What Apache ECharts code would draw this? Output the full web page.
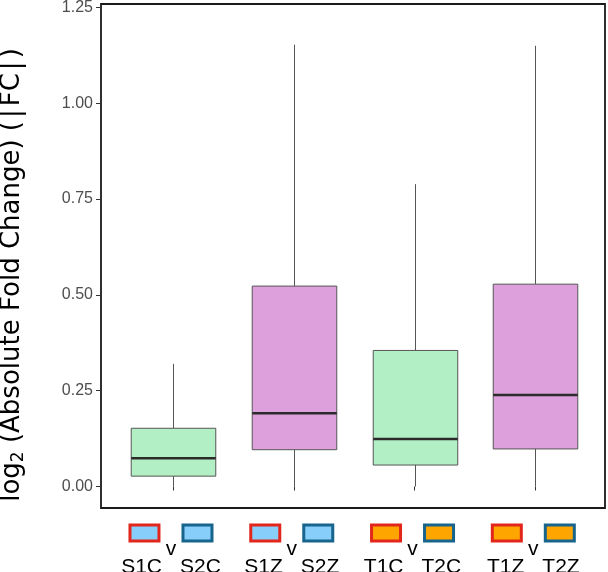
<!DOCTYPE html>
<html><head><meta charset="utf-8">
<script src="https://cdn.jsdelivr.net/npm/echarts@6/dist/echarts.min.js"></script>
<style>html,body{margin:0;padding:0;background:#fff}#c{width:608px;height:572px}</style>
</head><body><div id="c"></div>
<script>
// ---- data ----
const firstLabels  = ['S1C', 'S1Z', 'T1C', 'T1Z'];
const secondLabels = ['S2C', 'S2Z', 'T2C', 'T2Z'];
const positions    = [1, 2, 3, 4];
const whiskerLow   = [0.000, 0.000, 0.000, 0.000];
const q1           = [0.027, 0.096, 0.056, 0.098];
const median       = [0.074, 0.191, 0.124, 0.239];
const q3           = [0.152, 0.523, 0.355, 0.528];
const whiskerHigh  = [0.320, 1.153, 0.789, 1.150];
const yTicks       = [0, 0.25, 0.5, 0.75, 1.0, 1.25];
const boxFill      = ['#b3efc5', '#dda0dd', '#b3efc5', '#dda0dd'];
const iconFill     = ['#87cefa', '#87cefa', '#ffa500', '#ffa500'];
const iconBorderA  = '#e3261b';
const iconBorderB  = '#17648c';

// ---- style ----
const FONT = 'Liberation Sans, Arial, sans-serif';
const TFONT = 'DejaVu Sans, sans-serif';
const BOX_W = 0.7;

const rich = {
  g:  { width: 27, height: 13, align: 'center' },
  sp: { width: 18, align: 'center' },
  v:  { fontSize: 21, fontFamily: FONT, color: '#000', lineHeight: 13, align: 'center' },
  n:  { fontSize: 21, fontFamily: FONT, color: '#000', lineHeight: 22, align: 'center' }
};
iconFill.forEach((c, i) => {
  rich['ia' + i] = { width: 26, height: 13, lineHeight: 20, backgroundColor: c, borderColor: iconBorderA, borderWidth: 3, align: 'center' };
  rich['ib' + i] = { width: 26, height: 13, lineHeight: 20, backgroundColor: c, borderColor: iconBorderB, borderWidth: 3, align: 'center' };
});

function renderItem(params, api) {
  const i = params.dataIndex;
  const x = api.value(0);
  const pLo = api.coord([x, api.value(1)]);
  const pQ1 = api.coord([x, api.value(2)]);
  const pMed = api.coord([x, api.value(3)]);
  const pQ3 = api.coord([x, api.value(4)]);
  const pHi = api.coord([x, api.value(5)]);
  const w = api.size([BOX_W, 0])[0];
  const cx = Math.round(pQ1[0]) + 0.5;
  return {
    type: 'group',
    children: [
      { type: 'line', shape: { x1: cx, y1: pHi[1], x2: cx, y2: pQ3[1] }, style: { stroke: '#555', lineWidth: 1 } },
      { type: 'line', shape: { x1: cx, y1: pQ1[1], x2: cx, y2: pLo[1] }, style: { stroke: '#555', lineWidth: 1 } },
      { type: 'rect', shape: { x: cx - w / 2, y: pQ3[1], width: w, height: pQ1[1] - pQ3[1] }, style: { fill: boxFill[i], stroke: '#555', lineWidth: 1 } },
      { type: 'line', shape: { x1: cx - w / 2, y1: pMed[1], x2: cx + w / 2, y2: pMed[1] }, style: { stroke: '#2b2b2b', lineWidth: 2.5 } }
    ]
  };
}

const titleName = '{a|log}{s|2}{a| (Absolute Fold Change) (}{h|}{a||}{h|}{a|FC}{h|}{a||}{h|}{a|)}';

const chart = echarts.init(document.getElementById('c'), null, { renderer: 'canvas' });
chart.setOption({
  animation: false,
  backgroundColor: '#fff',
  grid: { left: 101, right: 3, top: 4, bottom: 64, show: true, outerBoundsMode: 'none', containLabel: false,
          borderColor: '#1a1a1a', borderWidth: 1.8, backgroundColor: 'transparent' },
  xAxis: {
    type: 'value', min: 0.404, max: 4.577,
    splitLine: { show: false },
    axisLine: { show: false },
    axisTick: { show: true, length: 4, customValues: positions, lineStyle: { color: '#333' } },
    axisLabel: {
      customValues: positions, margin: 15, padding: [0, 4, 0, 0],
      formatter: function (v) {
        const i = Math.round(v) - 1;
        return '{ia' + i + '|}{g|}{ib' + i + '|}\n{v|v}\n{n|' + firstLabels[i] + '}{sp|}{n|' + secondLabels[i] + '}';
      },
      rich: rich
    }
  },
  yAxis: {
    type: 'value', min: -0.0561, max: 1.2591,
    splitLine: { show: false },
    axisLine: { show: false },
    axisTick: { show: true, length: 5, customValues: yTicks, lineStyle: { color: '#333' } },
    axisLabel: { customValues: yTicks, formatter: v => v.toFixed(2), fontSize: 16, fontFamily: FONT, color: '#4d4d4d', margin: 8 },
    name: titleName,
    nameLocation: 'middle', nameRotate: 90, nameGap: 74,
    nameTextStyle: {
      fontSize: 26, fontFamily: TFONT, color: '#000', padding: [0, 38, 0, 0],
      rich: {
        a: { fontSize: 26, fontFamily: TFONT, color: '#000', lineHeight: 30 },
        s: { fontSize: 17, fontFamily: TFONT, color: '#000', lineHeight: 17, verticalAlign: 'bottom' },
        h: { width: 3 }
      }
    }
  },
  series: [{
    type: 'custom',
    renderItem: renderItem,
    encode: { x: 0, y: [1, 2, 3, 4, 5] },
    data: positions.map((p, i) => [p, whiskerLow[i], q1[i], median[i], q3[i], whiskerHigh[i]])
  }]
});
</script></body></html>
